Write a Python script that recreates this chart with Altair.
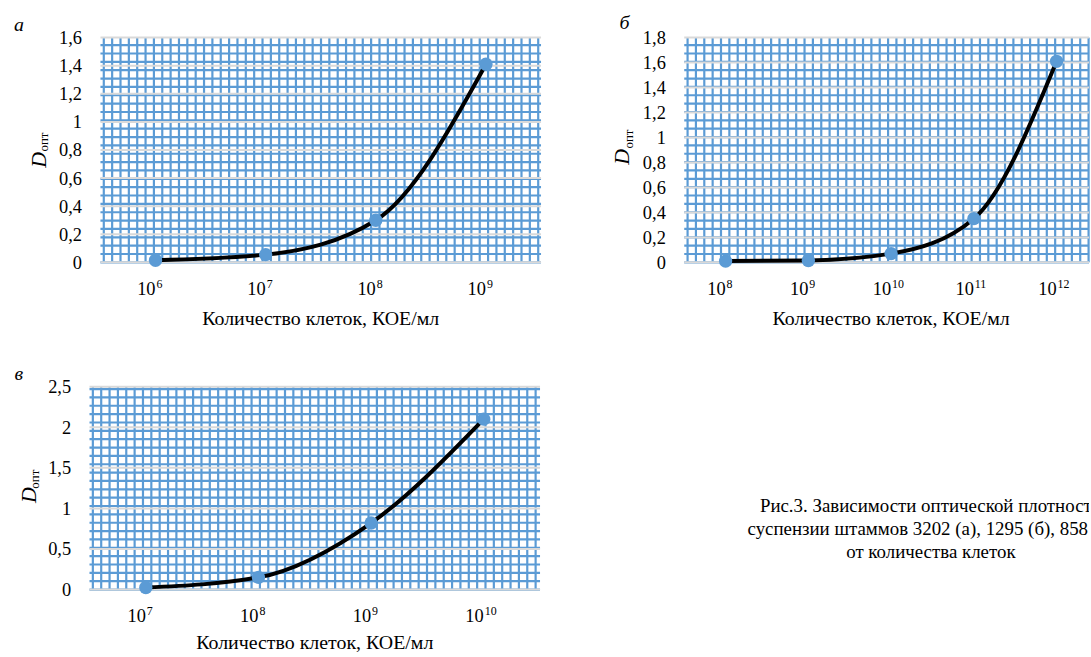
import altair as alt
import pandas as pd

BLUE = "#5b9bd5"
GRAY = "#d9d9d9"
FONT = "Liberation Serif"

# ---- data ----
# x categories are powers of ten: 10^exp, КОЕ/мл
exp_a = ["6", "7", "8", "9"]
vals_a = [0.015, 0.055, 0.30, 1.41]
yticks_a = [0, 0.2, 0.4, 0.6, 0.8, 1.0, 1.2, 1.4, 1.6]

exp_b = ["8", "9", "10", "11", "12"]
vals_b = [0.01, 0.015, 0.07, 0.35, 1.61]
yticks_b = [0, 0.2, 0.4, 0.6, 0.8, 1.0, 1.2, 1.4, 1.6, 1.8]

exp_c = ["7", "8", "9", "10"]
vals_c = [0.025, 0.15, 0.82, 2.10]
yticks_c = [0, 0.5, 1.0, 1.5, 2.0, 2.5]

base_label = "10"
x_title = "Количество клеток, КОЕ/мл"
y_title = "D"
y_sub = "опт"
letters = ["а", "б", "в"]
caption_lines = [
    "Рис.3. Зависимости оптической плотности",
    "суспензии штаммов 3202 (а), 1295 (б), 858 (в)",
    "от количества клеток",
]

CELL = 8.4  # spacing of the blue graph-paper pattern


def text_layer(txt, x, y, size, italic=False, angle=0, align="center", baseline="middle"):
    kw = dict(font=FONT, fontSize=size, align=align, baseline=baseline, color="black")
    if italic:
        kw["fontStyle"] = "italic"
    if angle:
        kw["angle"] = angle
    return alt.Chart(pd.DataFrame({"t": [txt]})).mark_text(**kw).encode(
        x=alt.value(x), y=alt.value(y), text="t:N")


def panel(letter, exps, vals, yticks, w, h, xr, letter_xy, d_xy, sub_xy, shift=0, title_dy=63):
    """w, h: plot size; xr: extent of the category scale; shift: px the plot sits
    left of the view origin (keeps the concat origins aligned)."""
    df = pd.DataFrame({"cells": exps, "D": vals})
    ymax = yticks[-1]
    x0 = -shift

    nxu = w / CELL
    nyu = h / CELL
    vrules = alt.Chart(alt.sequence(0.4, nxu, 1, as_="gi")).mark_rule(
        color=BLUE, strokeWidth=2.2).encode(
        x=alt.X("gi:Q", scale=alt.Scale(domain=[0, nxu], range=[x0, x0 + w], nice=False, zero=False),
                axis=None))
    hrules = alt.Chart(alt.sequence(0, nyu, 1, as_="gj")).mark_rule(
        color=BLUE, strokeWidth=2.2).encode(
        y=alt.Y("gj:Q", scale=alt.Scale(domain=[0, nyu], nice=False, zero=False), axis=None),
        x=alt.value(x0), x2=alt.value(x0 + w))

    xenc = alt.X("cells:N", sort=exps,
                 scale=alt.Scale(type="point", padding=0.5, range=[x0, x0 + xr]), axis=None)
    yscale = alt.Scale(domain=[0, ymax], nice=False)
    yaxis = alt.Axis(values=yticks,
                     labelExpr="replace(format(datum.value, '~g'), '.', ',')",
                     grid=False, ticks=False, tickSize=0, domain=False, labelPadding=19,
                     offset=shift, labelFont=FONT, labelFontSize=18.5, labelColor="black",
                     title=None)

    gray = alt.Chart(pd.DataFrame({"D": yticks})).mark_rule(color=GRAY, strokeWidth=2).encode(
        y=alt.Y("D:Q", scale=yscale, axis=yaxis), x=alt.value(x0), x2=alt.value(x0 + w))
    base = alt.Chart(df).encode(x=xenc, y=alt.Y("D:Q", scale=yscale, axis=yaxis))
    line = base.mark_line(interpolate="monotone", color="black", strokeWidth=4)
    pts = base.mark_circle(size=180, color=BLUE, opacity=1)

    lab10 = alt.Chart(df).mark_text(font=FONT, fontSize=18.5, align="right", baseline="alphabetic",
                                    color="black", dx=0).encode(
        x=xenc, y=alt.value(h + 33), text=alt.value(base_label))
    labexp = alt.Chart(df).mark_text(font=FONT, fontSize=12, align="left", baseline="alphabetic",
                                     color="black", dx=1).encode(
        x=xenc, y=alt.value(h + 26), text="cells:N")

    xt = text_layer(x_title, x0 + xr / 2, h + title_dy, 20, baseline="alphabetic")
    dt = text_layer(y_title, x0 + d_xy[0], d_xy[1], 22, italic=True, angle=270)
    st = text_layer(y_sub, x0 + sub_xy[0], sub_xy[1], 13, angle=270)
    lt = text_layer(letter, x0 + letter_xy[0], letter_xy[1], 20, italic=True)

    main = alt.layer(gray, line, pts, lab10, labexp, xt, dt, st, lt)
    return alt.layer(vrules, hrules, main).resolve_scale(
        x="independent", y="independent").properties(width=w - shift, height=h)


pa = panel(letters[0], exp_a, vals_a, yticks_a, 443, 226, 443, (-82, -13), (-62, 123), (-57, 105))
pb = panel(letters[1], exp_b, vals_b, yticks_b, 407, 226, 416, (-60, -15), (-63, 120), (-56, 102))
pc = panel(letters[2], exp_c, vals_c, yticks_c, 453, 204, 453, (-71, -13), (-61, 109), (-55, 93),
           shift=11, title_dy=60)

caption = alt.Chart(pd.DataFrame({"t": ["\n".join(caption_lines)]})).mark_text(
    lineBreak="\n", font=FONT, fontSize=19, align="center", baseline="middle",
    lineHeight=23, clip=True, color="black"
).encode(x=alt.value(372), y=alt.value(120), text="t:N").properties(width=531, height=200)

top = alt.hconcat(pa, pb, spacing=67)
bottom = alt.hconcat(pc, caption, spacing=18)

chart = alt.vconcat(top, bottom, spacing=33).properties(
    padding={"left": 13, "top": 10, "right": 0, "bottom": 0}, background="white"
).configure_view(stroke="transparent")

chart.save("out.html", embed_options={"renderer": "svg", "actions": False})
